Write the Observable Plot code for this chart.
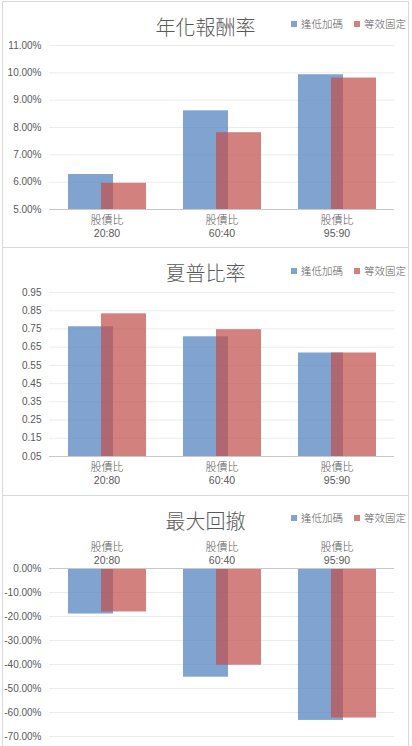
<!DOCTYPE html>
<html>
<head>
<meta charset="utf-8">
<script src="https://cdn.jsdelivr.net/npm/d3@7"></script>
<script src="https://cdn.jsdelivr.net/npm/@observablehq/plot@0.6"></script>
<style>
  body { margin: 0; background: #fff; width: 412px; height: 746px; overflow: hidden; position: relative; }
  .panel { position: absolute; left: 2px; width: 407px; box-sizing: border-box;
           border: 1px solid #d9d9d9; border-top: none; background: #fff; }
  .panel.first { border-top: 1px solid #d9d9d9; }
  .head { position: relative; }
  .title { position: absolute; left: 0; width: 405px; text-align: center; line-height: 20px;
           font: 300 20px "Noto Sans CJK TC", sans-serif; color: #595959; }
  .leg { position: absolute; left: 288px; font: 300 10.5px "Noto Sans CJK TC", sans-serif; color: #595959;
         white-space: nowrap; line-height: 12px; }
  .leg span.sw { display: inline-block; width: 6px; height: 6px; margin-right: 4px; vertical-align: 1px; }
  .leg span.item { margin-right: 11px; }
  .chart svg { display: block; }
</style>
</head>
<body>
<div id="p1" class="panel first" style="top:1px"></div>
<div id="p2" class="panel" style="top:248px"></div>
<div id="p3" class="panel" style="top:496px"></div>
<script>
// 股債比分組
const categories = ["20:80", "60:40", "95:90"]
const series = ["逢低加碼", "等效固定"]
const colors = ["#4F81BD", "#C0504D"]

// 年化報酬率 (%)
const returnBuy = [6.28, 8.61, 9.93]
const returnFixed = [5.96, 7.81, 9.81]
const returnTicks = [5, 6, 7, 8, 9, 10, 11]

// 夏普比率
const sharpeBuy = [0.762, 0.707, 0.618]
const sharpeFixed = [0.833, 0.746, 0.618]
const sharpeTicks = [0.05, 0.15, 0.25, 0.35, 0.45, 0.55, 0.65, 0.75, 0.85, 0.95]

// 最大回撤 (%)
const ddBuy = [-18.97, -45.3, -63.3]
const ddFixed = [-18.1, -40.3, -62.3]
const ddTicks = [0, -10, -20, -30, -40, -50, -60, -70]

function panel(id, opts) {
  let el = document.getElementById(id)
  // 標題與圖例放在 svg 上方
  let head = d3.select(el).append('div').attr('class', 'head').style('height', opts.headH + 'px')
  head.append('div').attr('class', 'title').style('top', opts.titleY - 10 + 'px').text(opts.title)
  let leg = head.append('div').attr('class', 'leg').style('top', opts.legY - 6 + 'px')
  series.forEach((s, i) => {
    let item = leg.append('span').attr('class', 'item')
    item.append('span').attr('class', 'sw').style('background', colors[i]).style('opacity', 0.72)
    item.append('span').text(s)
  })

  let rows = categories.flatMap((c, i) => [
    {cat: c, s: series[0], v: opts.a[i]},
    {cat: c, s: series[1], v: opts.b[i]}
  ])
  let first = d => d.s === series[0]
  let anchor = opts.labelsTop ? 'top' : 'bottom'

  let chart = Plot.plot({
    width: 405,
    height: opts.height,
    marginLeft: 45,
    marginRight: 13,
    marginTop: opts.marginTop,
    marginBottom: opts.marginBottom,
    style: {fontFamily: "'Liberation Sans', 'Noto Sans CJK TC', sans-serif", fontSize: '10px', color: '#595959', background: 'transparent'},
    facet: {data: rows, x: 'cat'},
    fx: {domain: categories, padding: 0, axis: null, label: null},
    x: {domain: series, paddingInner: 0, paddingOuter: 0.257, axis: null},
    y: {domain: opts.domain, ticks: opts.ticks, tickFormat: opts.fmt, tickSize: 0, tickPadding: 8, label: null},
    marks: [
      Plot.ruleY(opts.ticks, {stroke: '#ececec'}),
      Plot.barY(rows, {filter: first, x: 's', y1: opts.base, y2: 'v', fill: colors[0], fillOpacity: 0.72, dx: 6}),
      Plot.barY(rows, {filter: d => d.s === series[1], x: 's', y1: opts.base, y2: 'v', fill: colors[1], fillOpacity: 0.72, dx: -6}),
      Plot.ruleY([opts.base], {stroke: '#c8c8c8'}),
      Plot.text(rows, {filter: first, text: () => '股債比', frameAnchor: anchor, dy: opts.dy1,
        fontSize: 11, fontFamily: "'Noto Sans CJK TC', sans-serif", fontWeight: 300}),
      Plot.text(rows, {filter: first, text: 'cat', frameAnchor: anchor, dy: opts.dy2, fontSize: 10.5})
    ]
  })
  d3.select(el).append('div').attr('class', 'chart').append(() => chart)
}

panel('p1', {
  title: '年化報酬率', a: returnBuy, b: returnFixed, ticks: returnTicks,
  domain: [5, 11], base: 5, fmt: d => d.toFixed(2) + '%',
  headH: 34, titleY: 20, legY: 22, height: 211, marginTop: 9, marginBottom: 38,
  labelsTop: false, dy1: 14, dy2: 27
})
panel('p2', {
  title: '夏普比率', a: sharpeBuy, b: sharpeFixed, ticks: sharpeTicks,
  domain: [0.05, 0.95], base: 0.05, fmt: d => d.toFixed(2),
  headH: 35, titleY: 20, legY: 23, height: 212, marginTop: 9, marginBottom: 39,
  labelsTop: false, dy1: 14, dy2: 27
})
panel('p3', {
  title: '最大回撤', a: ddBuy, b: ddFixed, ticks: ddTicks,
  domain: [-70, 0], base: 0, fmt: d => d.toFixed(2) + '%',
  headH: 34, titleY: 20, legY: 22, height: 216, marginTop: 38, marginBottom: 10,
  labelsTop: true, dy1: -25, dy2: -12
})
</script>
</body>
</html>
